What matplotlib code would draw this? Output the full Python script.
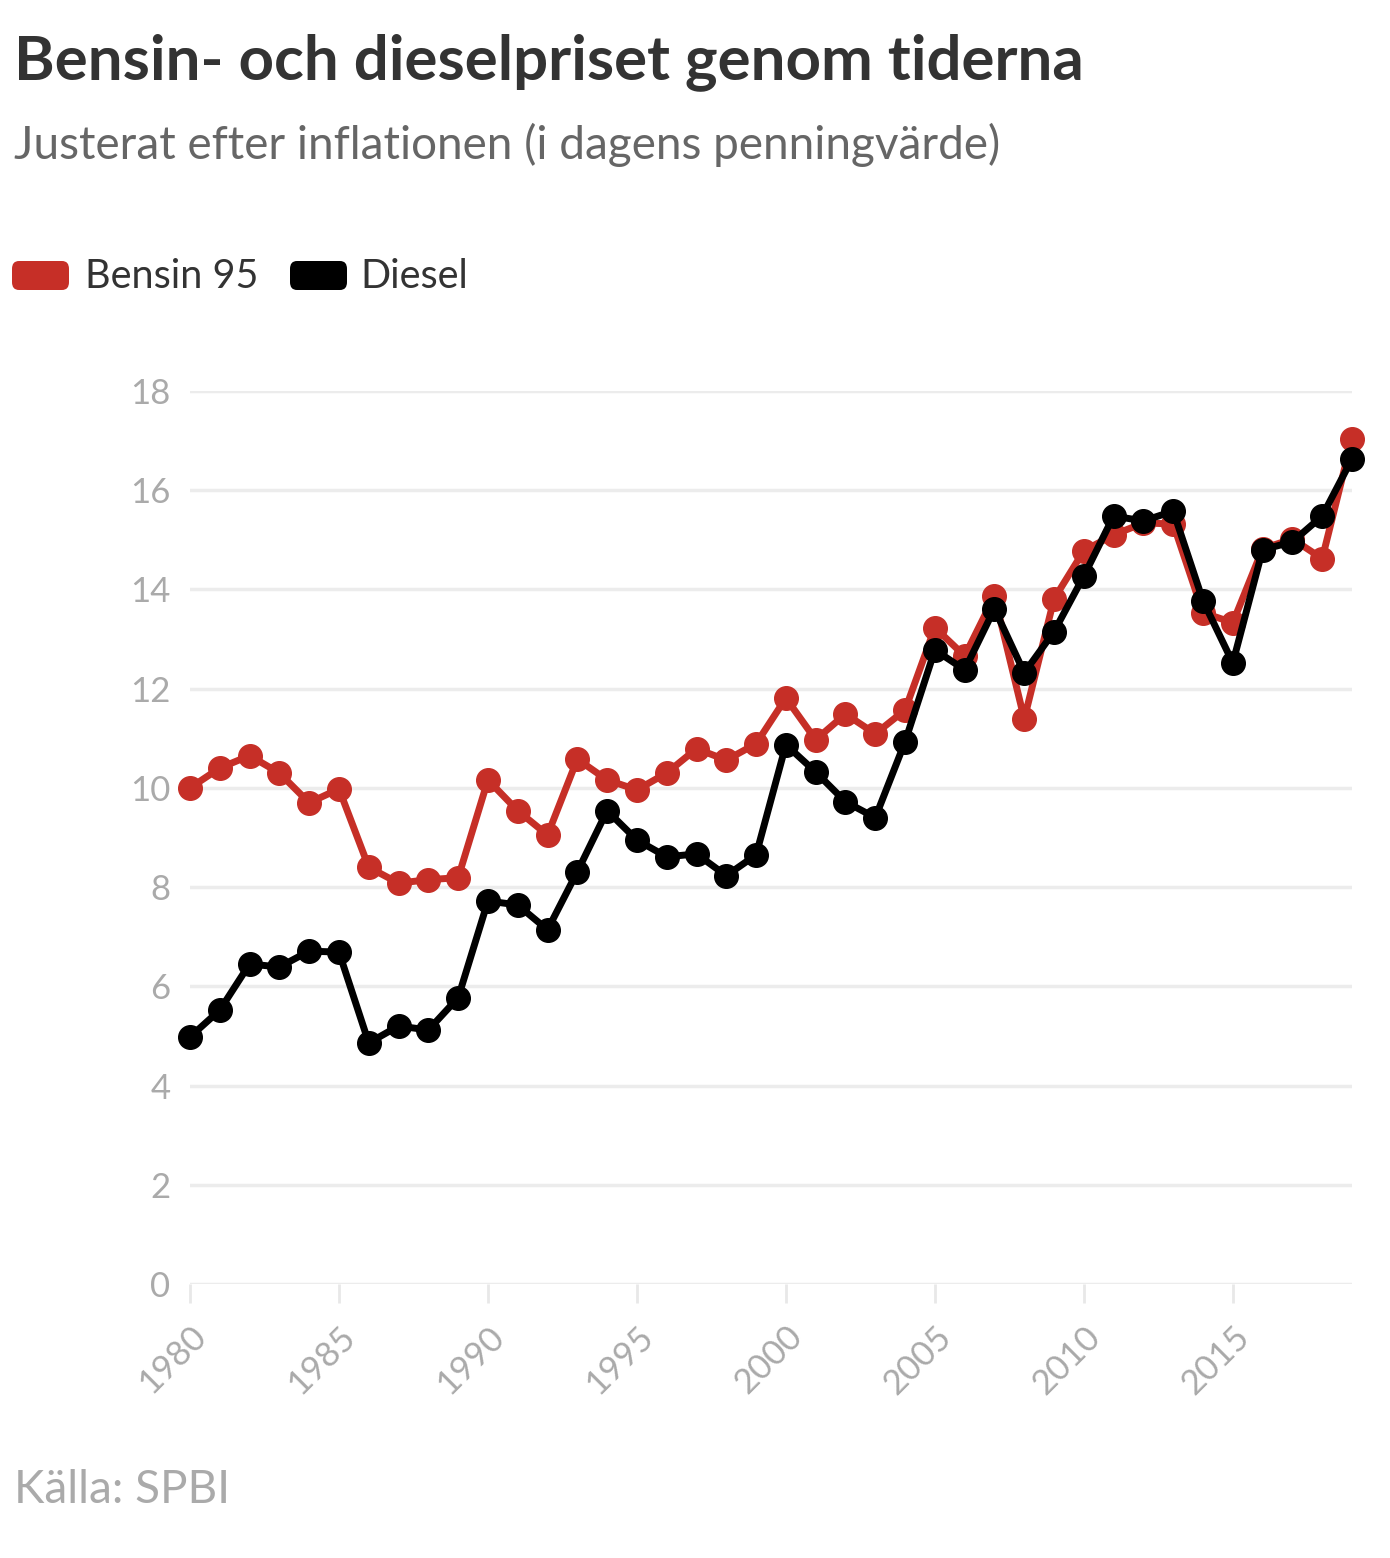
import matplotlib.pyplot as plt
from matplotlib.patches import FancyBboxPatch

# Data
years = list(range(1980, 2020))
bensin = [10.0, 10.4, 10.65, 10.3, 9.7, 9.98, 8.4, 8.08, 8.15, 8.19,
          10.16, 9.54, 9.05, 10.58, 10.16, 9.96, 10.3, 10.79, 10.56, 10.89,
          11.81, 10.97, 11.49, 11.09, 11.57, 13.23, 12.66, 13.87, 11.39, 13.81,
          14.78, 15.1, 15.34, 15.32, 13.53, 13.33, 14.82, 15.02, 14.62, 17.04]
diesel = [4.98, 5.52, 6.45, 6.39, 6.71, 6.69, 4.86, 5.2, 5.12, 5.77,
          7.72, 7.64, 7.14, 8.31, 9.54, 8.95, 8.61, 8.67, 8.23, 8.65,
          10.87, 10.32, 9.72, 9.4, 10.93, 12.78, 12.38, 13.61, 12.32, 13.15,
          14.27, 15.48, 15.38, 15.58, 13.77, 12.52, 14.8, 14.96, 15.48, 16.63]
serier = ['Bensin 95', 'Diesel']
farger = ['#c62f27', '#000000']
xticks = list(range(1980, 2016, 5))
yticks = list(range(0, 20, 2))

plt.rcParams['font.family'] = ['Lato', 'DejaVu Sans']

fig = plt.figure(figsize=(13.9, 15.58), dpi=100)
ax = fig.add_axes([190 / 1390, 1 - 1284 / 1558, (1352 - 190) / 1390, (1284 - 391) / 1558])

for vals, farg in zip([bensin, diesel], farger):
    ax.plot(years, vals, color=farg, lw=5, marker='o', ms=17, clip_on=False, zorder=3)

ax.set_xlim(1980, 2019)
ax.set_ylim(0, 18)
ax.set_yticks(yticks)
ax.set_xticks(xticks)
ax.set_xticklabels([str(y) for y in xticks], rotation=45, ha='right', va='top',
                   rotation_mode='anchor')
ax.tick_params(axis='y', length=0, pad=14, labelsize=25, labelcolor='#aaaaaa')
ax.tick_params(axis='x', length=14, width=2, color='#e8e8e8', pad=12,
               labelsize=25, labelcolor='#aaaaaa')
ax.grid(axis='y', color='#ececec', lw=2.5)
ax.set_axisbelow(True)
for s in ax.spines.values():
    s.set_visible(False)

# Title, subtitle
fig.text(14 / 1390, 1 - 62 / 1558, 'Bensin- och dieselpriset genom tiderna',
         fontsize=44.5, fontweight='bold', color='#333333', va='center', ha='left')
fig.text(14 / 1390, 1 - 145 / 1558, 'Justerat efter inflationen (i dagens penningvärde)',
         fontsize=33, color='#666666', va='center', ha='left')

# Legend
lx = [12, 290]
tx = [85, 360]
for x0, t0, namn, farg in zip(lx, tx, serier, farger):
    p = FancyBboxPatch((x0 / 1390, 1 - 290 / 1558), 57 / 1390, 29 / 1558,
                       boxstyle='round,pad=0,rounding_size=0.005',
                       transform=fig.transFigure, facecolor=farg, edgecolor='none')
    fig.patches.append(p)
    fig.text(t0 / 1390, 1 - 276 / 1558, namn, fontsize=28.5, color='#333333',
             va='center', ha='left')

fig.text(14 / 1390, 1 - 1490 / 1558, 'Källa: SPBI', fontsize=33, color='#aaaaaa',
         va='center', ha='left')

fig.savefig('out.png', dpi=100, facecolor='white')
